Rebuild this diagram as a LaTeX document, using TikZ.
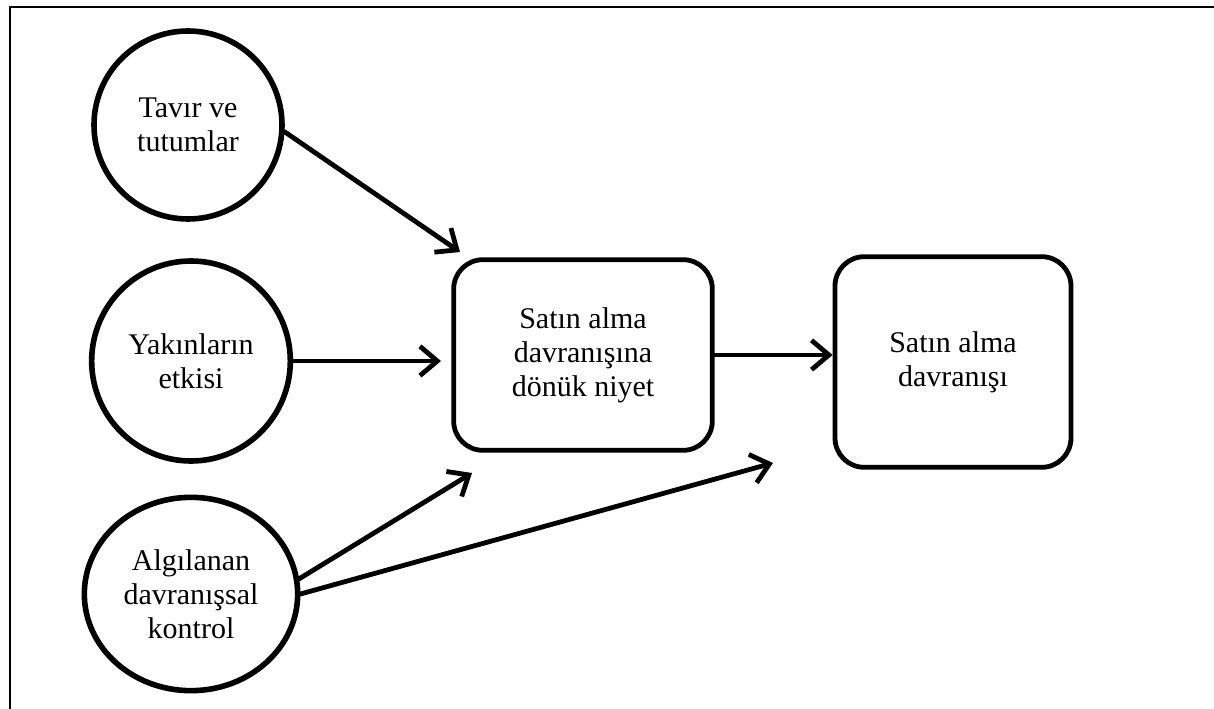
\documentclass[tikz,border=0pt]{standalone}
\usepackage{fontspec}
\setmainfont{Liberation Serif}
\usetikzlibrary{positioning,arrows.meta,shapes.geometric}

\begin{document}
\begin{tikzpicture}[
    x=0.75pt, y=-0.75pt,
    factor/.style={
        ellipse,
        draw=black,
        line width=4.2pt,
        fill=white,
        align=center,
        inner sep=0pt,
        font=\fontsize{22.5}{25.5}\selectfont
    },
    stage/.style={
        rectangle,
        rounded corners=22pt,
        draw=black,
        line width=3.6pt,
        fill=white,
        align=center,
        inner sep=0pt,
        font=\fontsize{22.5}{25.5}\selectfont
    },
    arrow/.style={
        -{Straight Barb[length=13pt,width=22pt]},
        line width=3.6pt,
        line cap=round,
        draw=black
    }
]
\useasboundingbox (0,0) rectangle (1214,709);

% Open frame
\draw[line width=2.2pt] (1214,7) -- (10,7) -- (10,709);

% Factors
\node[factor, minimum width=141pt, minimum height=141pt] (tavir) at (188,125) {Tavır ve\\tutumlar};
\node[factor, minimum width=149pt, minimum height=150pt] (yakin) at (191,361) {Yakınların\\etkisi};
\node[factor, minimum width=160pt, minimum height=145pt] (algi) at (191,594) {Algılanan\\davranışsal\\kontrol};

% Intention and behaviour
\node[stage, minimum width=194pt, minimum height=143pt] (niyet) at (583,355) {Satın alma\\davranışına\\dönük niyet};
\node[stage, minimum width=177pt, minimum height=158pt] (davranis) at (953,362) {Satın alma\\davranışı};

% Free arrow ends
\coordinate (tipA) at (460,252);
\coordinate (tipB) at (441,361);
\coordinate (tipC) at (472,473);
\coordinate (tipD) at (773,463);

% Connections
\draw[arrow] (tavir.-4) -- (tipA);
\draw[arrow] (yakin.east) -- (tipB);
\draw[arrow] (niyet.east) -- (niyet.east -| davranis.west);
\draw[arrow] (algi.8) -- (tipC);
\draw[arrow] (algi.0) -- (tipD);

\end{tikzpicture}
\end{document}
